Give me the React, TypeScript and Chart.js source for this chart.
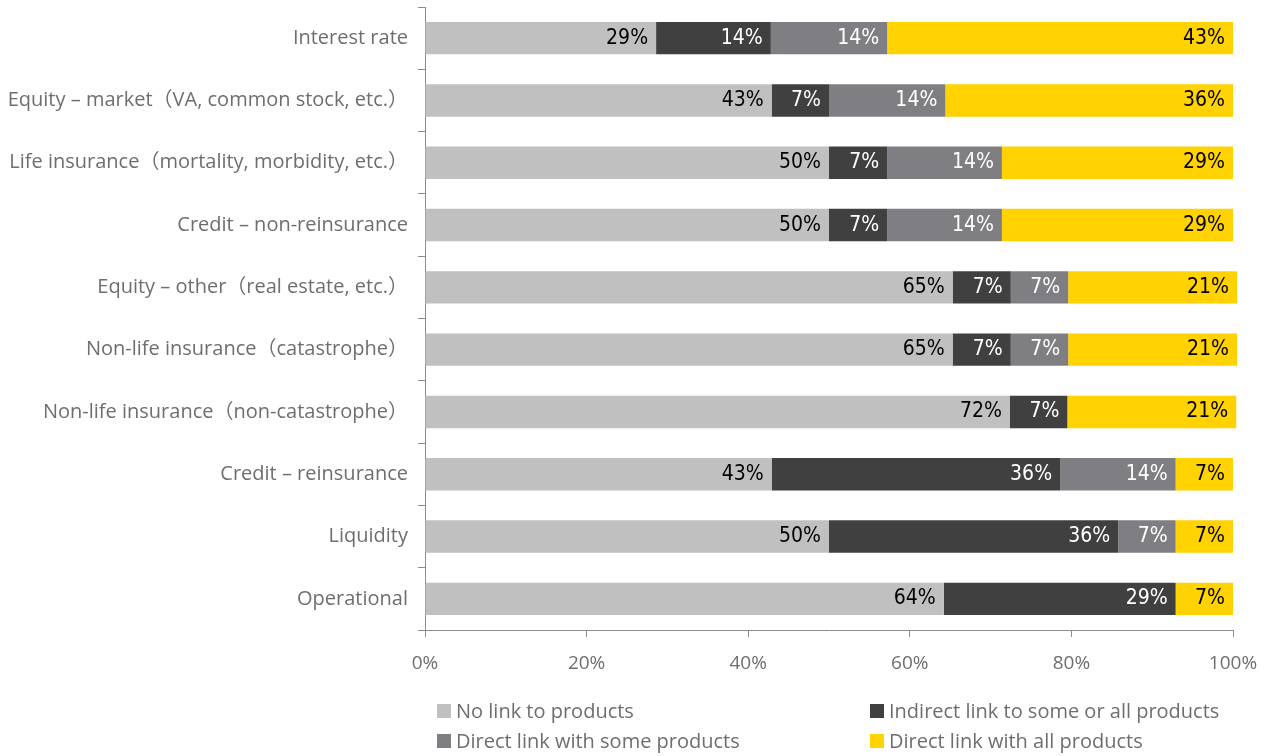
import React, { useEffect, useRef } from "react";
import { Chart, registerables } from "chart.js";

Chart.register(...registerables);

const categories = [
  "Interest rate",
  "Equity – market（VA, common stock, etc.）",
  "Life insurance（mortality, morbidity, etc.）",
  "Credit – non-reinsurance",
  "Equity – other（real estate, etc.）",
  "Non-life insurance（catastrophe）",
  "Non-life insurance（non-catastrophe）",
  "Credit – reinsurance",
  "Liquidity",
  "Operational",
];

const noLink = [28.6, 42.9, 50, 50, 65.3, 65.3, 72.4, 42.9, 50, 64.2];
const indirectLink = [14.2, 7.1, 7.2, 7.2, 7.2, 7.2, 7.1, 35.7, 35.8, 28.7];
const directSome = [14.4, 14.4, 14.2, 14.2, 7.1, 7.1, 0, 14.3, 7.1, 0];
const directAll = [42.8, 35.6, 28.6, 28.6, 20.9, 20.9, 20.9, 7.1, 7.1, 7.1];

const xTicks = [0, 20, 40, 60, 80, 100];

const seriesNames = [
  "No link to products",
  "Indirect link to some or all products",
  "Direct link with some products",
  "Direct link with all products",
];
const seriesColors = ["#C0C0C0", "#404040", "#7F7E83", "#FFD200"];
const labelColors = ["#000000", "#FFFFFF", "#FFFFFF", "#000000"];

const GRAY = "#6D6E71";
const AXIS = "#8C8C8C";

const valueLabelPlugin = {
  id: "valueLabels",
  afterDatasetsDraw(chart: any) {
    const ctx = chart.ctx;
    ctx.save();
    ctx.font = "21px 'DejaVu Sans Condensed', 'DejaVu Sans', sans-serif";
    ctx.textAlign = "right";
    ctx.textBaseline = "middle";
    chart.data.datasets.forEach((ds: any, di: number) => {
      const meta = chart.getDatasetMeta(di);
      meta.data.forEach((bar: any, i: number) => {
        const v = ds.data[i];
        if (!v) return;
        ctx.fillStyle = labelColors[di];
        ctx.fillText(Math.round(v) + "%", bar.x - 8, bar.y);
      });
    });
    ctx.restore();
  },
};

export default function App() {
  const ref = useRef<HTMLCanvasElement>(null);
  useEffect(() => {
    document.body.style.margin = "0";
    const data = [noLink, indirectLink, directSome, directAll];
    const chart = new Chart(ref.current!, {
      type: "bar",
      data: {
        labels: categories,
        datasets: data.map((d, i) => ({
          label: seriesNames[i],
          data: d,
          backgroundColor: seriesColors[i],
          borderWidth: 0,
          barPercentage: 0.52,
          categoryPercentage: 1,
          clip: false as any,
        })),
      },
      options: {
        indexAxis: "y",
        animation: false,
        responsive: false,
        maintainAspectRatio: false,
        layout: { padding: { top: 7, right: 34, left: 0, bottom: 0 } },
        plugins: {
          legend: { display: false },
          tooltip: { enabled: false },
        },
        scales: {
          x: {
            stacked: true,
            min: 0,
            max: 100,
            afterFit: (s: any) => {
              s.height = 126;
              s.paddingLeft = 0;
              s.paddingRight = 0;
            },
            afterBuildTicks: (s: any) => {
              s.ticks = xTicks.map((v) => ({ value: v }));
            },
            grid: {
              drawOnChartArea: false,
              drawTicks: true,
              tickLength: 7,
              color: AXIS,
            },
            border: { color: AXIS, width: 1 },
            ticks: {
              padding: 15,
              color: GRAY,
              font: { family: "'Open Sans', sans-serif", size: 19 },
              callback: (v: any) => v + "%",
            },
          },
          y: {
            stacked: true,
            afterFit: (s: any) => {
              s.width = 425;
              s.paddingTop = 0;
              s.paddingBottom = 0;
            },
            grid: {
              drawOnChartArea: false,
              drawTicks: true,
              tickLength: 7,
              offset: true,
              color: AXIS,
            },
            border: { color: AXIS, width: 1 },
            ticks: {
              padding: 10,
              color: GRAY,
              font: { family: "'Open Sans', 'Noto Sans CJK JP', sans-serif", size: 20 },
            },
          },
        },
      },
      plugins: [valueLabelPlugin],
    });
    return () => chart.destroy();
  }, []);

  const legendPos = [
    { left: 437, top: 703 },
    { left: 870, top: 703 },
    { left: 437, top: 733 },
    { left: 870, top: 733 },
  ];

  return (
    <div style={{ position: "relative", width: 1267, height: 756 }}>
      <canvas ref={ref} width={1267} height={756} style={{ display: "block" }} />
      {seriesNames.map((name, i) => (
        <div
          key={name}
          style={{
            position: "absolute",
            left: legendPos[i].left,
            top: legendPos[i].top,
            display: "flex",
            alignItems: "center",
            fontFamily: "'Open Sans', sans-serif",
            fontSize: 20,
            color: GRAY,
            lineHeight: "16px",
            whiteSpace: "nowrap",
          }}
        >
          <span
            style={{
              display: "inline-block",
              width: 14,
              height: 14,
              background: seriesColors[i],
              marginRight: 5,
            }}
          />
          {name}
        </div>
      ))}
    </div>
  );
}
